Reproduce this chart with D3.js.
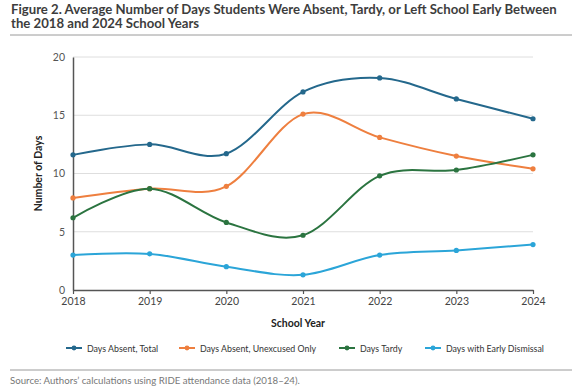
<!DOCTYPE html>
<html>
<head>
<meta charset="utf-8">
<script src="https://cdn.jsdelivr.net/npm/d3@7"></script>
<style>
  body { margin: 0; background: #fff; }
  text { font-family: Lato, "Open Sans", sans-serif; }
</style>
</head>
<body>
<svg id="chart" width="572" height="391"></svg>
<script>
// data
var years = [2018, 2019, 2020, 2021, 2022, 2023, 2024];
var absentTotal = [11.6, 12.5, 11.7, 17.0, 18.2, 16.4, 14.7];
var absentUnexcused = [7.9, 8.7, 8.9, 15.1, 13.1, 11.5, 10.4];
var daysTardy = [6.2, 8.7, 5.8, 4.7, 9.8, 10.3, 11.6];
var earlyDismissal = [3.0, 3.1, 2.0, 1.3, 3.0, 3.4, 3.9];
var seriesNames = ["Days Absent, Total", "Days Absent, Unexcused Only", "Days Tardy", "Days with Early Dismissal"];
var yTicks = [0, 5, 10, 15, 20];

var colors = ["#24688c", "#ee7f3f", "#2b7440", "#2ba5d8"];
var seriesValues = [absentTotal, absentUnexcused, daysTardy, earlyDismissal];

var svg = d3.select("#chart");

var margin = {left: 73, right: 39, top: 57, bottom: 101},
	width = 572 - margin.left - margin.right,
	height = 391 - margin.top - margin.bottom;

// scale a text's font size so it spans the wanted width
function fitWidth(sel, target) {
	var w = sel.node().getComputedTextLength();
	var size = parseFloat(sel.style("font-size"));
	sel.style("font-size", (size * target / w) + "px");
}

// title (two lines in one text element)
var title = svg.append("text")
	.attr("x", 11).attr("y", 13.5)
	.attr("fill", "#3d3d3d")
	.style("font-size", "13px")
	.style("font-weight", "bold");
var titleLine1 = title.append("tspan")
	.attr("x", 11)
	.text("Figure 2. Average Number of Days Students Were Absent, Tardy, or Left School Early Between");
var w1 = titleLine1.node().getComputedTextLength();
title.style("font-size", (13 * 546 / w1) + "px");
title.append("tspan")
	.attr("x", 11)
	.attr("dy", 14.5)
	.text("the 2018 and 2024 School Years");

svg.append("line")
	.attr("x1", 10).attr("x2", 572)
	.attr("y1", 35).attr("y2", 35)
	.style("stroke", "#9a9a9a")
	.style("stroke-width", 1);

var g = svg.append("g")
	.attr("transform", "translate(" + margin.left + "," + margin.top + ")");

var x = d3.scaleLinear().domain([2018, 2024]).range([0, width]);
var y = d3.scaleLinear().domain([0, 20]).range([height, 0]);

// gridlines
g.selectAll("line.grid")
	.data(yTicks.filter(function (d) { return d > 0; }))
	.enter()
	.append("line")
	.attr("class", "grid")
	.attr("x1", 0).attr("x2", width)
	.attr("y1", function (d) { return y(d); })
	.attr("y2", function (d) { return y(d); })
	.style("stroke", "#dedede")
	.style("stroke-width", 1);

// y axis
var yAxis = g.append("g")
	.call(d3.axisLeft(y).tickValues(yTicks).tickSize(0).tickPadding(8));
yAxis.select(".domain").style("stroke", "#555").style("stroke-width", 1.5);
yAxis.selectAll("text").style("font-size", "10.5px").attr("fill", "#555");

// x axis
var xAxis = g.append("g")
	.attr("transform", "translate(0," + height + ")")
	.call(d3.axisBottom(x).tickValues(years).tickFormat(d3.format("d")).tickSizeInner(4).tickSizeOuter(0).tickPadding(4));
xAxis.select(".domain").style("stroke", "#555").style("stroke-width", 1.5);
xAxis.selectAll("line").style("stroke", "#555").style("stroke-width", 1.2);
xAxis.selectAll("text").style("font-size", "10.5px").attr("fill", "#444");

// axis titles
svg.append("text")
	.attr("transform", "translate(42," + (margin.top + height / 2) + ") rotate(-90)")
	.attr("text-anchor", "middle")
	.attr("fill", "#222")
	.style("font-size", "10.5px")
	.style("font-weight", "bold")
	.text("Number of Days");

svg.append("text")
	.attr("x", 298)
	.attr("y", 327)
	.attr("text-anchor", "middle")
	.attr("fill", "#222")
	.style("font-size", "10.5px")
	.style("font-weight", "bold")
	.text("School Year");

// lines
var line = d3.line()
	.x(function (d, i) { return x(years[i]); })
	.y(function (d) { return y(d); })
	.curve(d3.curveCardinal.tension(0));

var series = g.selectAll("g.series")
	.data(seriesValues)
	.enter()
	.append("g")
	.attr("class", "series");

series.append("path")
	.attr("d", function (d) { return line(d); })
	.attr("fill", "none")
	.attr("stroke", function (d, i) { return colors[i]; })
	.attr("stroke-width", 2);

series.each(function (vals, si) {
	d3.select(this).selectAll("circle")
		.data(vals)
		.enter()
		.append("circle")
		.attr("cx", function (d, i) { return x(years[i]); })
		.attr("cy", function (d) { return y(d); })
		.attr("r", 2.6)
		.attr("fill", colors[si]);
});

// legend
var legendX = [66, 179, 339, 425];
var legend = svg.selectAll("g.legend")
	.data(seriesNames)
	.enter()
	.append("g")
	.attr("class", "legend")
	.attr("transform", function (d, i) { return "translate(" + legendX[i] + ",348)"; });

legend.append("line")
	.attr("x1", 0).attr("x2", 16)
	.attr("y1", 0).attr("y2", 0)
	.attr("stroke", function (d, i) { return colors[i]; })
	.attr("stroke-width", 2);
legend.append("circle")
	.attr("cx", 8).attr("cy", 0).attr("r", 2.4)
	.attr("fill", function (d, i) { return colors[i]; });
var legendText = legend.append("text")
	.attr("x", 21)
	.attr("y", 3.5)
	.attr("fill", "#333")
	.style("font-size", "10px")
	.text(function (d) { return d; });
// one shared size, fitted to the widths of the legend labels
var legendWidths = [71, 117, 43, 96];
var fitted = legendText.nodes().map(function (n, i) {
	return 10 * legendWidths[i] / n.getComputedTextLength();
});
legendText.style("font-size", d3.mean(fitted) + "px");

// source
svg.append("line")
	.attr("x1", 10).attr("x2", 572)
	.attr("y1", 370).attr("y2", 370)
	.style("stroke", "#9a9a9a")
	.style("stroke-width", 1);

var source = svg.append("text")
	.attr("x", 10)
	.attr("y", 383.5)
	.attr("fill", "#777")
	.style("font-size", "9.5px")
	.text("Source: Authors\u2019 calculations using RIDE attendance data (2018\u201324).");
fitWidth(source, 290);
</script>
</body>
</html>
